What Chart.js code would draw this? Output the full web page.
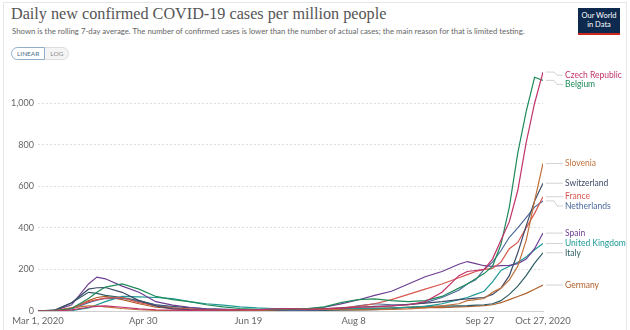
<!DOCTYPE html>
<html lang="en">
<head>
<meta charset="UTF-8">
<meta name="viewport" content="width=device-width, initial-scale=1.0">
<title>Daily new confirmed COVID-19 cases per million people</title>
<script src="https://cdn.jsdelivr.net/npm/chart.js"></script>
<style>
    body {
        margin: 0;
        width: 630px;
        height: 330px;
        overflow: hidden;
        position: relative;
        background: #fff;
        font-family: Lato, sans-serif;
    }
    #frame {
        position: absolute;
        left: 3px; top: 2px;
        width: 622px; height: 340px;
        border: 1px solid #e6e6e6;
    }
    h1 {
        position: absolute;
        left: 11px; top: 5px;
        margin: 0;
        font-family: "Liberation Serif", serif;
        font-weight: normal;
        font-size: 16.2px;
        color: #555;
        white-space: nowrap;
    }
    .sub {
        position: absolute;
        left: 12px; top: 26px;
        font-size: 7.8px;
        color: #666;
        white-space: nowrap;
    }
    .toggle {
        position: absolute;
        left: 11px; top: 47px;
        display: flex;
        font-size: 6.5px;
    }
    .toggle span {
        padding: 2px 5px;
        border: 1px solid #ddd;
        color: #888;
        background: #f4f4f4;
    }
    .toggle .on {
        border-color: #8fb0cc;
        color: #4d6d8c;
        background: #fff;
        border-radius: 7px 0 0 7px;
    }
    .toggle .off { border-left: none; border-radius: 0 7px 7px 0; }
    #logo {
        position: absolute;
        left: 578px; top: 8px;
        width: 42px; height: 27px;
        background: #0d2a4e;
        border-bottom: 2px solid #ce261e;
        color: #fff;
        font-size: 7.5px;
        line-height: 9px;
        text-align: center;
        padding-top: 3px;
        box-sizing: border-box;
    }
    #chart-box {
        position: absolute;
        left: 0; top: 0;
        width: 630px; height: 330px;
    }
</style>
</head>
<body>
<div id="frame"></div>
<h1>Daily new confirmed COVID-19 cases per million people</h1>
<div class="sub">Shown is the rolling 7-day average. The number of confirmed cases is lower than the number of actual cases; the main reason for that is limited testing.</div>
<div class="toggle"><span class="on">LINEAR</span><span class="off">LOG</span></div>
<div id="logo">Our World<br>in Data</div>
<div id="chart-box"><canvas id="cases"></canvas></div>

<script>
    // days since Mar 1, 2020
    const days = [0, 8, 16, 24, 28, 32, 40, 48, 56, 64, 72, 80, 88, 96, 104, 112, 120, 128, 136, 144, 152,
                  160, 168, 176, 184, 192, 200, 204, 208, 212, 216, 220, 224, 228, 232, 236, 240];

    const tickDays = [0, 50, 100, 150, 210, 240];
    const tickLabels = ['Mar 1, 2020', 'Apr 30', 'Jun 19', 'Aug 8', 'Sep 27', 'Oct 27, 2020'];
    const yTicks = [0, 200, 400, 600, 800, 1000];

    const countries = ['Czech Republic', 'Belgium', 'Slovenia', 'Switzerland', 'France',
                       'Netherlands', 'Spain', 'United Kingdom', 'Italy', 'Germany'];

    // new cases per million, rolling 7-day average
    const czech = [0, 0, 5, 18, 22, 25, 18, 10, 6, 4, 3, 4, 4, 5, 5, 10, 12, 8, 10, 14, 18,
                   20, 25, 30, 45, 90, 170, 190, 195, 200, 250, 340, 430, 580, 810, 1000, 1150];
    const belgium = [0, 1, 12, 60, 90, 115, 130, 105, 70, 55, 45, 30, 20, 12, 8, 8, 10, 12, 20, 40, 55,
                     58, 50, 45, 50, 70, 110, 130, 155, 180, 215, 320, 500, 760, 960, 1125, 1110];
    const slovenia = [0, 2, 15, 25, 24, 20, 12, 6, 3, 2, 1, 1, 1, 1, 3, 5, 10, 10, 8, 6, 5,
                      6, 8, 10, 15, 25, 35, 50, 55, 60, 90, 110, 150, 215, 340, 530, 710];
    const switzerland = [0, 3, 40, 105, 112, 113, 90, 50, 25, 10, 6, 4, 3, 3, 3, 4, 8, 10, 11, 14, 18,
                         22, 25, 32, 38, 45, 55, 58, 62, 65, 80, 110, 170, 280, 410, 530, 615];
    const france = [0, 2, 15, 45, 55, 62, 65, 40, 25, 15, 10, 5, 5, 6, 6, 7, 8, 8, 10, 15, 22,
                    35, 55, 80, 105, 130, 160, 175, 190, 200, 205, 235, 300, 330, 400, 470, 550];
    const netherlands = [0, 1, 10, 40, 52, 60, 62, 45, 30, 15, 8, 5, 3, 2, 2, 3, 3, 4, 6, 12, 25,
                         35, 30, 30, 40, 65, 100, 130, 150, 200, 235, 290, 355, 400, 450, 500, 530];
    const spain = [0, 2, 30, 130, 163, 155, 120, 90, 45, 28, 18, 10, 8, 7, 7, 6, 6, 9, 18, 34, 53,
                   75, 95, 130, 165, 190, 225, 238, 228, 218, 215, 218, 220, 228, 250, 300, 375];
    const uk = [0, 0, 2, 15, 30, 45, 70, 68, 65, 60, 45, 35, 28, 20, 15, 12, 10, 8, 8, 10, 12,
                14, 15, 18, 22, 35, 55, 65, 80, 95, 140, 195, 215, 235, 260, 295, 325];
    const italy = [0, 5, 40, 90, 85, 75, 65, 50, 30, 22, 15, 10, 8, 5, 5, 4, 3, 3, 3, 4, 5,
                   7, 10, 18, 22, 23, 25, 26, 28, 30, 35, 50, 80, 120, 170, 230, 280];
    const germany = [0, 1, 12, 50, 65, 70, 55, 35, 18, 12, 8, 6, 5, 4, 4, 6, 6, 5, 6, 8, 10,
                     12, 15, 17, 16, 16, 20, 21, 23, 26, 30, 40, 55, 70, 85, 105, 125];

    const series = [czech, belgium, slovenia, switzerland, france, netherlands, spain, uk, italy, germany];
    const colors = ['#c2336a', '#1f8a5a', '#c0703a', '#3d4a66', '#d9564f',
                    '#4c6a9c', '#6d3e91', '#1d9a96', '#2e5e66', '#b0602a'];

    // country names at the line ends, nudged apart so they don't overlap
    const endLabels = {
        id: 'endLabels',
        afterDatasetsDraw(chart) {
            const ctx = chart.ctx;
            const xs = chart.scales.x, ys = chart.scales.y;
            const items = chart.data.datasets.map(ds => {
                const last = ds.data[ds.data.length - 1];
                return { name: ds.label, color: ds.borderColor,
                         px: xs.getPixelForValue(last.x), py: ys.getPixelForValue(last.y) };
            });
            items.sort((a, b) => a.py - b.py);
            let prev = 66;
            items.forEach(it => { it.ly = Math.max(it.py, prev + 9.2); prev = it.ly; });

            ctx.save();
            ctx.font = '8.5px Lato';
            ctx.textBaseline = 'middle';
            items.forEach(it => {
                ctx.strokeStyle = '#c8c8c8';
                ctx.lineWidth = 0.8;
                ctx.beginPath();
                ctx.moveTo(it.px + 3, it.py);
                ctx.lineTo(it.px + 11, it.py);
                ctx.lineTo(it.px + 14, it.ly);
                ctx.lineTo(it.px + 20, it.ly);
                ctx.stroke();
                ctx.fillStyle = it.color;
                ctx.fillText(it.name, it.px + 22, it.ly);
            });
            ctx.restore();
        }
    };

    Chart.defaults.font.family = 'Lato';
    Chart.defaults.color = '#666';

    new Chart(document.getElementById('cases'), {
        type: 'line',
        data: {
            datasets: countries.map((name, i) => ({
                label: name,
                data: days.map((d, j) => ({ x: d, y: series[i][j] })),
                borderColor: colors[i],
                borderWidth: 1.2,
                pointRadius: 0,
                tension: 0,
                fill: false
            }))
        },
        options: {
            responsive: true,
            maintainAspectRatio: false,
            animation: false,
            layout: { padding: { top: 70, right: 87, left: 0, bottom: 0 } },
            plugins: {
                legend: { display: false },
                tooltip: { enabled: false }
            },
            scales: {
                x: {
                    type: 'linear',
                    min: 0,
                    max: 240,
                    afterBuildTicks: scale => { scale.ticks = tickDays.map(v => ({ value: v })); },
                    afterFit: scale => { scale.height = 19; },
                    grid: { display: false, drawTicks: false },
                    border: { color: '#cfcfcf' },
                    ticks: {
                        autoSkip: false,
                        maxRotation: 0,
                        padding: 4,
                        font: { size: 9.5 },
                        color: '#666',
                        callback: (v, i) => tickLabels[i]
                    }
                },
                y: {
                    min: 0,
                    max: 1160,
                    afterBuildTicks: scale => { scale.ticks = yTicks.map(v => ({ value: v })); },
                    afterFit: scale => { scale.width = 38; },
                    grid: { color: '#dedede', drawTicks: false },
                    border: { display: false, dash: [2, 2] },
                    ticks: {
                        padding: 4,
                        font: { size: 9 },
                        color: '#666',
                        callback: v => v.toLocaleString('en-US')
                    }
                }
            }
        },
        plugins: [endLabels]
    });
</script>
</body>
</html>
